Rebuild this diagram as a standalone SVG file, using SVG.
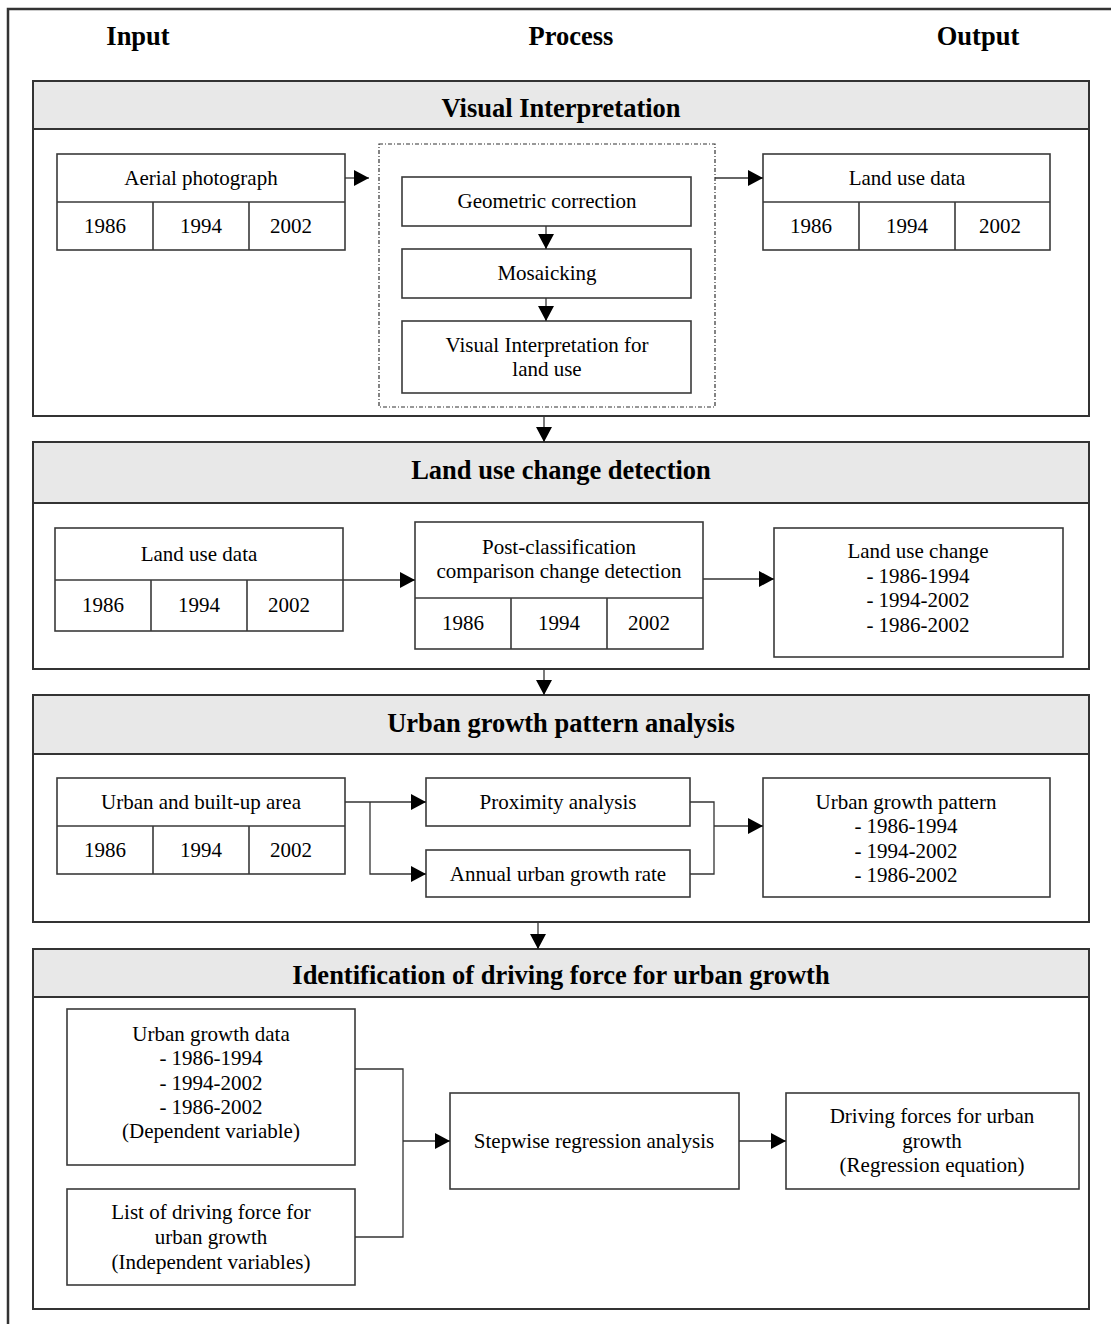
<svg xmlns="http://www.w3.org/2000/svg" width="1111" height="1324" viewBox="0 0 1111 1324">
<defs>
<marker id="ah" markerUnits="userSpaceOnUse" markerWidth="15" markerHeight="16" refX="15" refY="8" orient="auto">
<path d="M0,0 L15,8 L0,16 z" fill="#000"/>
</marker>
<style>
.t{font-family:"Liberation Serif","Times New Roman",serif;font-size:21px;fill:#000;text-anchor:middle}
.h{font-family:"Liberation Serif","Times New Roman",serif;font-size:26.5px;font-weight:bold;fill:#000;text-anchor:middle}
.box{fill:#fff;stroke:#3a3a3a;stroke-width:1.6}
.ln{fill:none;stroke:#3a3a3a;stroke-width:1.6}
.sec{fill:#fff;stroke:#333;stroke-width:2}
.hdr{fill:#e8e8e8;stroke:#333;stroke-width:2}
.c{fill:none;stroke:#333;stroke-width:1.3}
.ca{fill:none;stroke:#333;stroke-width:1.3;marker-end:url(#ah)}
.dash{fill:none;stroke:#333;stroke-width:1.2;stroke-dasharray:4 2 1 2}
</style>
</defs>
<rect width="1111" height="1324" fill="#fff"/>
<path d="M8,1324 L8,9 L1111,9" fill="none" stroke="#333" stroke-width="2.5"/>
<g id="col-headers">
<text class="h" x="138" y="45">Input</text>
<text class="h" x="571" y="45">Process</text>
<text class="h" x="978" y="45">Output</text>
</g>

<g id="section1">
<rect class="sec" x="33" y="81" width="1056" height="335"/>
<rect class="hdr" x="33" y="81" width="1056" height="48"/>
<text class="h" x="561" y="117">Visual Interpretation</text>
</g>
<g id="aerial">
<rect class="box" x="57" y="154" width="288" height="96"/>
<path class="ln" d="M57,202 H345 M153,202 V250 M249,202 V250"/>
<text class="t" x="201" y="185">Aerial photograph</text>
<text class="t" x="105" y="233">1986</text>
<text class="t" x="201" y="233">1994</text>
<text class="t" x="291" y="233">2002</text>
</g>
<g id="process1">
<rect class="dash" x="379" y="144" width="336" height="263"/>
</g>
<g id="geometric">
<rect class="box" x="402" y="177" width="289" height="49"/>
<text class="t" x="547" y="208">Geometric correction</text>
</g>
<g id="mosaicking">
<rect class="box" x="402" y="249" width="289" height="49"/>
<text class="t" x="547" y="280">Mosaicking</text>
</g>
<g id="visual-interp">
<rect class="box" x="402" y="321" width="289" height="72"/>
<text class="t" x="547" y="352">Visual Interpretation for</text>
<text class="t" x="547" y="376">land use</text>
</g>
<g id="landuse1">
<rect class="box" x="763" y="154" width="287" height="96"/>
<path class="ln" d="M763,202 H1050 M859,202 V250 M955,202 V250"/>
<text class="t" x="907" y="185">Land use data</text>
<text class="t" x="811" y="233">1986</text>
<text class="t" x="907" y="233">1994</text>
<text class="t" x="1000" y="233">2002</text>
</g>

<g id="section2">
<rect class="sec" x="33" y="442" width="1056" height="227"/>
<rect class="hdr" x="33" y="442" width="1056" height="61"/>
<text class="h" x="561" y="479">Land use change detection</text>
</g>
<g id="landuse2">
<rect class="box" x="55" y="528" width="288" height="103"/>
<path class="ln" d="M55,580 H343 M151,580 V631 M247,580 V631"/>
<text class="t" x="199" y="561">Land use data</text>
<text class="t" x="103" y="612">1986</text>
<text class="t" x="199" y="612">1994</text>
<text class="t" x="289" y="612">2002</text>
</g>
<g id="postclass">
<rect class="box" x="415" y="522" width="288" height="127"/>
<path class="ln" d="M415,598 H703 M511,598 V649 M607,598 V649"/>
<text class="t" x="559" y="554">Post-classification</text>
<text class="t" x="559" y="578">comparison change detection</text>
<text class="t" x="463" y="630">1986</text>
<text class="t" x="559" y="630">1994</text>
<text class="t" x="649" y="630">2002</text>
</g>
<g id="luchange">
<rect class="box" x="774" y="528" width="289" height="129"/>
<text class="t" x="918" y="558">Land use change</text>
<text class="t" x="918" y="583">- 1986-1994</text>
<text class="t" x="918" y="607">- 1994-2002</text>
<text class="t" x="918" y="632">- 1986-2002</text>
</g>

<g id="section3">
<rect class="sec" x="33" y="695" width="1056" height="227"/>
<rect class="hdr" x="33" y="695" width="1056" height="59"/>
<text class="h" x="561" y="732">Urban growth pattern analysis</text>
</g>
<g id="urban-area">
<rect class="box" x="57" y="778" width="288" height="96"/>
<path class="ln" d="M57,826 H345 M153,826 V874 M249,826 V874"/>
<text class="t" x="201" y="809">Urban and built-up area</text>
<text class="t" x="105" y="857">1986</text>
<text class="t" x="201" y="857">1994</text>
<text class="t" x="291" y="857">2002</text>
</g>
<g id="proximity">
<rect class="box" x="426" y="778" width="264" height="48"/>
<text class="t" x="558" y="809">Proximity analysis</text>
</g>
<g id="annual">
<rect class="box" x="426" y="850" width="264" height="47"/>
<text class="t" x="558" y="881">Annual urban growth rate</text>
</g>
<g id="ugpattern">
<rect class="box" x="763" y="778" width="287" height="119"/>
<text class="t" x="906" y="809">Urban growth pattern</text>
<text class="t" x="906" y="833">- 1986-1994</text>
<text class="t" x="906" y="858">- 1994-2002</text>
<text class="t" x="906" y="882">- 1986-2002</text>
</g>

<g id="section4">
<rect class="sec" x="33" y="949" width="1056" height="360"/>
<rect class="hdr" x="33" y="949" width="1056" height="48"/>
<text class="h" x="561" y="984">Identification of driving force for urban growth</text>
</g>
<g id="ugdata">
<rect class="box" x="67" y="1009" width="288" height="156"/>
<text class="t" x="211" y="1041">Urban growth data</text>
<text class="t" x="211" y="1065">- 1986-1994</text>
<text class="t" x="211" y="1090">- 1994-2002</text>
<text class="t" x="211" y="1114">- 1986-2002</text>
<text class="t" x="211" y="1138">(Dependent variable)</text>
</g>
<g id="listdf">
<rect class="box" x="67" y="1189" width="288" height="96"/>
<text class="t" x="211" y="1219">List of driving force for</text>
<text class="t" x="211" y="1244">urban growth</text>
<text class="t" x="211" y="1269">(Independent variables)</text>
</g>
<g id="stepwise">
<rect class="box" x="450" y="1093" width="289" height="96"/>
<text class="t" x="594" y="1148">Stepwise regression analysis</text>
</g>
<g id="drivingforces">
<rect class="box" x="786" y="1093" width="293" height="96"/>
<text class="t" x="932" y="1123">Driving forces for urban</text>
<text class="t" x="932" y="1148">growth</text>
<text class="t" x="932" y="1172">(Regression equation)</text>
</g>

<g id="connectors">
<path class="ca" d="M345,178 H369"/>
<path class="ca" d="M715,178 H763"/>
<path class="ca" d="M546,226 V249"/>
<path class="ca" d="M546,298 V321"/>
<path class="ca" d="M544,416 V442"/>
<path class="ca" d="M343,580 H415"/>
<path class="ca" d="M703,579 H774"/>
<path class="ca" d="M544,669 V695"/>
<path class="ca" d="M345,802 H426"/>
<path class="ca" d="M370,802 V874 H426"/>
<path class="c" d="M690,802 H714 V874 H690"/>
<path class="ca" d="M714,826 H763"/>
<path class="ca" d="M538,922 V949"/>
<path class="c" d="M355,1069 H403 V1237 H355"/>
<path class="ca" d="M403,1141 H450"/>
<path class="ca" d="M739,1141 H786"/>
</g>
</svg>
